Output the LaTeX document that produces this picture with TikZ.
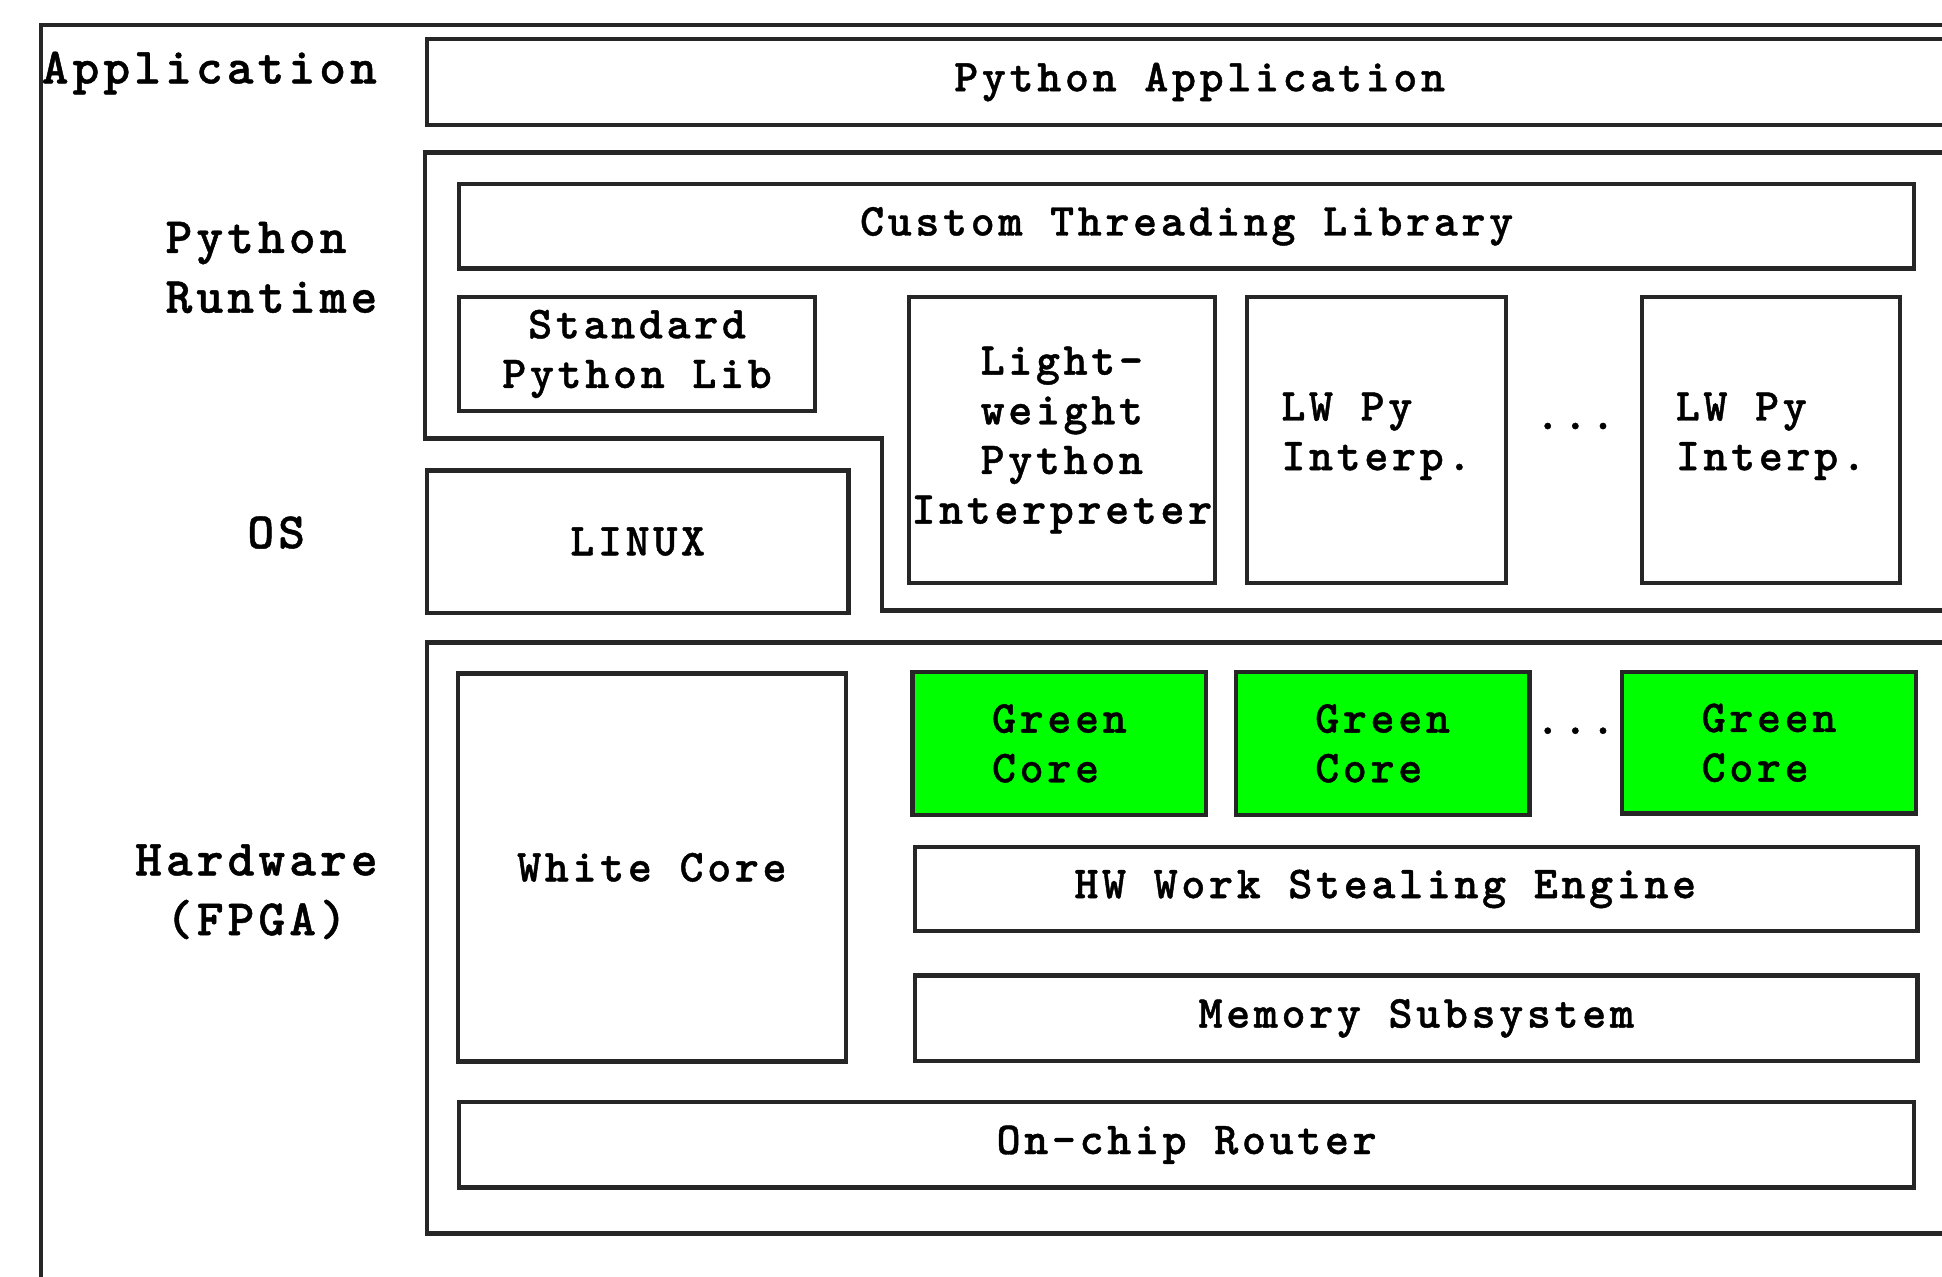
\documentclass[tikz,border=0pt]{standalone}
\usepackage{fontspec}
\newfontfamily\slabtt{lmmonolt10-bold}[Extension=.otf,LetterSpace=8,FakeBold=0.9]
\usepackage{xcolor}
\usepackage{tikz}
\usetikzlibrary{positioning}
\definecolor{coregreen}{RGB}{0,255,0}
\tikzset{
  layer/.style={draw=black!85,line width=1pt,anchor=north west,inner sep=0pt,align=center,font=\boxfont},
  green core/.style={layer,fill=coregreen,align=left},
  lw interp/.style={layer,align=left},
  side label/.style={inner sep=0pt,font=\labelfont},
  frame/.style={draw=black!85,line width=1pt}
}
\newcommand{\boxfont}{\slabtt\fontsize{10.5}{11.4}\selectfont}
\newcommand{\labelfont}{\slabtt\fontsize{11.7}{13.7}\selectfont}

\begin{document}
\begin{tikzpicture}[x=0.01cm,y=-0.01cm]
    \useasboundingbox (0,0) rectangle (1568,1031);
    \draw[frame] (33,1060) -- (33,20) -- (1620,20);
    \draw[frame] (1620,123) -- (343,123) -- (343,354) -- (712,354) -- (712,493) -- (1620,493);
    \node[side label] (lapp) at (169,59) {Application};
    \node[side label,align=left,anchor=west] (lrt) at (133,216) {Python\\Runtime};
    \node[side label] (los) at (223,430) {OS};
    \node[side label,align=center] (lhw) at (207,720) {Hardware\\(FPGA)};
    \node[layer,minimum width=12.47cm,minimum height=0.69cm] (app) at (343,30) {Python Application};
    \node[layer,minimum width=11.74cm,minimum height=0.68cm] (ctl) at (369,147) {Custom Threading Library};
    \node[layer,minimum width=2.87cm,minimum height=0.92cm] (stdlib) at (369,238) {Standard\\Python Lib};
    \node[layer,minimum width=2.47cm,minimum height=2.31cm] (lwpi) at (732,238) {Light-\\weight\\Python\\Interpreter};
    \node[lw interp,minimum width=2.09cm,minimum height=2.31cm] (lwa) at (1005,238) {LW Py\\Interp.\\[-0.26cm]};
    \node[font=\boxfont] (idots) at (1272,344) {...};
    \node[lw interp,minimum width=2.08cm,minimum height=2.31cm] (lwb) at (1324,238) {LW Py\\Interp.\\[-0.26cm]};
    \node[layer,minimum width=3.40cm,minimum height=1.15cm] (linux) at (343,378) {LINUX};
    \node[layer,minimum width=12.77cm,minimum height=4.77cm] (fpga) at (343,517) {};
    \node[layer,minimum width=3.13cm,minimum height=3.13cm] (white) at (368,542) {White Core};
    \node[green core,minimum width=2.37cm,minimum height=1.15cm] (gca) at (735,541) {Green\\Core};
    \node[green core,minimum width=2.37cm,minimum height=1.15cm] (gcb) at (996,541) {Green\\Core};
    \node[font=\boxfont] (gdots) at (1272,590) {...};
    \node[green core,minimum width=2.37cm,minimum height=1.14cm] (gcc) at (1308,541) {Green\\Core};
    \node[layer,minimum width=8.09cm,minimum height=0.68cm] (steal) at (737,682) {HW Work Stealing Engine\hspace*{0.5cm}};
    \node[layer,minimum width=8.09cm,minimum height=0.69cm] (mem) at (737,786) {Memory Subsystem};
    \node[layer,minimum width=11.74cm,minimum height=0.69cm] (router) at (369,888) {On-chip Router};
  \end{tikzpicture}
\end{document}
